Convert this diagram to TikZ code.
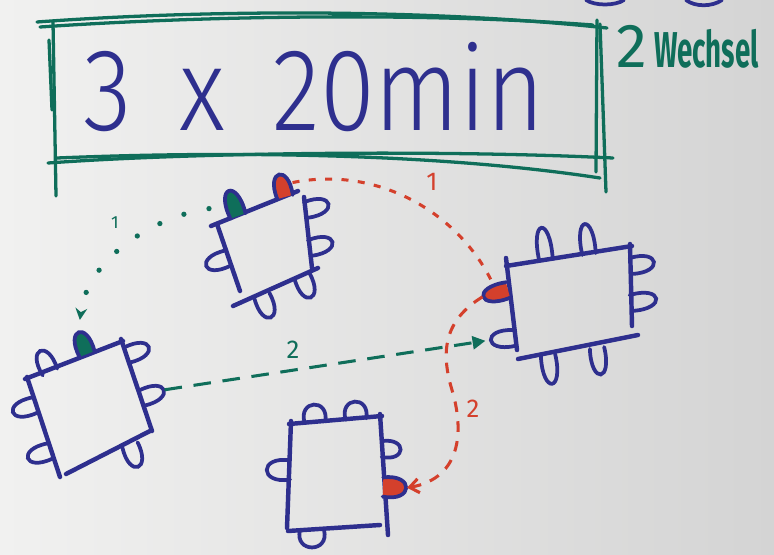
\documentclass[tikz,border=0pt]{standalone}
\usepackage{fontspec}
\setmainfont{Fira Sans}
\newfontfamily\handthin{Fira Sans Light}
\usepackage{graphicx}
\usetikzlibrary{arrows.meta}
\definecolor{mkBlue}{HTML}{2E2F8E}
\definecolor{mkGreen}{HTML}{0F6E5A}
\definecolor{mkRed}{HTML}{D4402C}
\definecolor{wbLight}{HTML}{F1F1F0}
\definecolor{wbDark}{HTML}{D4D4D4}
\tikzset{
  tableline/.style={draw=mkBlue,line width=3.8pt,line cap=round},
  seatline/.style={draw=mkBlue,line width=3.2pt,line cap=round},
  frameline/.style={draw=mkGreen,line width=2.8pt,line cap=round},
  pics/seat/.style={code={
    \filldraw[seatline,fill=#1] (-8,0) .. controls (-12,-31) and (12,-31) .. (8,0);
    \coordinate (-tip) at (0,-24);
    \coordinate (-left) at (-11,-12);
    \coordinate (-right) at (11,-12);
  }},
  titletext/.style={font=\handthin\fontsize{100}{110}\selectfont,
    text=mkBlue,anchor=base,inner sep=0pt},
  notetext/.style={font=\fontsize{43}{48}\selectfont,
    text=mkGreen,anchor=base west,inner sep=0pt},
  lbl/.style={font=\fontsize{22}{24}\selectfont,inner sep=0pt},
  arrgdot/.style={draw=mkGreen,line width=4.5pt,line cap=round,
    dash pattern=on 0pt off 22pt},
  arrgdash/.style={draw=mkGreen,line width=2.6pt,
    dash pattern=on 15pt off 10pt},
  arrrdot/.style={draw=mkRed,line width=2.6pt,
    dash pattern=on 6pt off 8pt},
  arrrdash/.style={draw=mkRed,line width=2.6pt,
    dash pattern=on 9pt off 8pt},
}
\begin{document}
\begin{tikzpicture}[x=0.03cm,y=-0.03cm]
  \useasboundingbox (0,0) rectangle (774,555);
  \fill[left color=wbLight,right color=wbDark] (0,0) rectangle (774,555);

  % marker bits cut off at the top edge
  \draw[seatline] (586,0) .. controls (595,6) and (615,6) .. (624,0);
  \draw[seatline] (686,0) .. controls (695,7) and (712,7) .. (722,0);

  % green frame round the title
  \draw[frameline] (37,22) .. controls (200,10) and (420,8) .. (607,28);
  \draw[frameline] (40,27) .. controls (200,16) and (420,12) .. (593,25);
  \draw[frameline] (53,22) -- (56,196);
  \draw[frameline] (49,40) -- (52,110);
  \draw[frameline] (597,20) -- (596,172);
  \draw[frameline] (600,24) -- (606,192);
  \draw[frameline] (48,163) .. controls (200,152) and (450,150) .. (613,158);
  \draw[frameline] (57,158) .. controls (250,150) and (450,155) .. (600,178);

  \node[titletext] (title) at (314,130)
    {\scalebox{0.85}[1]{3 \hspace{20pt}x \hspace{20pt}20min}};
  \node[notetext] (note) at (616,67)
    {{\fontsize{53}{56}\selectfont 2}\hspace{6pt}\scalebox{0.55}[1]{\bfseries Wechsel}};

  % table top
  \draw[tableline] (211,226) -- (298,191);
  \draw[tableline] (217,224) -- (240,291);
  \draw[tableline] (304,197) -- (312,268);
  \draw[tableline] (233,306) -- (318,268);
  \pic[rotate=20,yscale=1.15] (sA1) at (238,216) {seat=mkGreen};
  \pic[rotate=15] (sA2) at (285,197) {seat=mkRed};
  \pic[rotate=-75] (sA3) at (306,210) {seat=none};
  \pic[rotate=-75] (sA4) at (310,248) {seat=none};
  \pic[rotate=110] (sA5) at (228,258) {seat=none};
  \pic[rotate=202] (sA6) at (262,296) {seat=none};
  \pic[rotate=202] (sA7) at (302,276) {seat=none};

  % table right
  \draw[tableline] (506,266) -- (632,246);
  \draw[tableline] (506,258) -- (517,350);
  \draw[tableline] (630,244) -- (632,326);
  \draw[tableline] (518,359) -- (638,335);
  \pic[rotate=8,xscale=0.85,yscale=1.4] (sB1) at (546,260) {seat=none};
  \pic[rotate=8,xscale=0.85,yscale=1.3] (sB2) at (589,254) {seat=none};
  \pic[rotate=-80] (sB3) at (631,266) {seat=none};
  \pic[rotate=-80,yscale=1.1] (sB4) at (631,303) {seat=none};
  \pic[rotate=188,xscale=0.9,yscale=1.25] (sB5) at (548,355) {seat=none};
  \pic[rotate=188,xscale=0.9,yscale=1.15] (sB6) at (597,348) {seat=none};
  \pic[rotate=105,yscale=1.1] (sB7) at (508,290) {seat=mkRed};
  \pic[rotate=95] (sB8) at (514,338) {seat=none};

  % table left
  \draw[tableline] (25,379) -- (123,341);
  \draw[tableline] (27,377) -- (60,477);
  \draw[tableline] (121,339) -- (152,431);
  \draw[tableline] (66,474) -- (150,431);
  \pic[rotate=25] (sC1) at (50,372) {seat=none};
  \pic[rotate=21] (sC2) at (87,354) {seat=mkGreen};
  \pic[rotate=-70] (sC3) at (127,355) {seat=none};
  \pic[rotate=-70] (sC4) at (142,398) {seat=none};
  \pic[rotate=108] (sC5) at (35,405) {seat=none};
  \pic[rotate=108] (sC6) at (50,451) {seat=none};
  \pic[rotate=200] (sC7) at (130,445) {seat=none};

  % table bottom
  \draw[tableline] (289,424) -- (382,416);
  \draw[tableline] (291,421) -- (287,528);
  \draw[tableline] (380,414) -- (388,535);
  \draw[tableline] (288,531) -- (380,525);
  \pic[rotate=4,xscale=1.3,yscale=0.75] (sD1) at (315,422) {seat=none};
  \pic[rotate=4,xscale=1.3,yscale=0.75] (sD2) at (356,419) {seat=none};
  \pic[rotate=-92,yscale=0.8] (sD3) at (382,449) {seat=none};
  \pic[rotate=-92,xscale=1.2] (sD4) at (383,487) {seat=mkRed};
  \pic[rotate=90,xscale=1.2] (sD5) at (290,470) {seat=none};
  \pic[rotate=180,xscale=1.5,yscale=0.75] (sD6) at (312,530) {seat=none};

  % moves
  \coordinate (bend2) at (452,390);
  \draw[arrgdot,-{Stealth[length=10pt,width=10pt]},shorten <=12pt,shorten >=10pt]
    (sA1-left) .. controls (160,215) and (88,255) .. (sC2-tip);
  \draw[arrrdot] (sA2-right) .. controls (380,165) and (460,215) .. (sB7-right);
  \draw[arrrdash,-{Straight Barb[length=8pt,width=12pt,line width=2.6pt]}]
    (sB7-tip) .. controls (445,320) and (440,350) .. (bend2)
    .. controls (464,430) and (462,478) .. (sD4-tip);
  \draw[arrgdash,-{Triangle[length=11pt,width=11pt]},shorten >=4pt]
    (sC4-tip) -- (sB8-tip);

  \node[lbl,text=mkGreen,font=\fontsize{15}{16}\selectfont] (l1g) at (115,223) {1};
  \node[lbl,text=mkRed] (l1r) at (432,182) {1};
  \node[lbl,text=mkRed] (l2r) at (473,409) {2};
  \node[lbl,text=mkGreen] (l2g) at (293,350) {2};
\end{tikzpicture}
\end{document}
